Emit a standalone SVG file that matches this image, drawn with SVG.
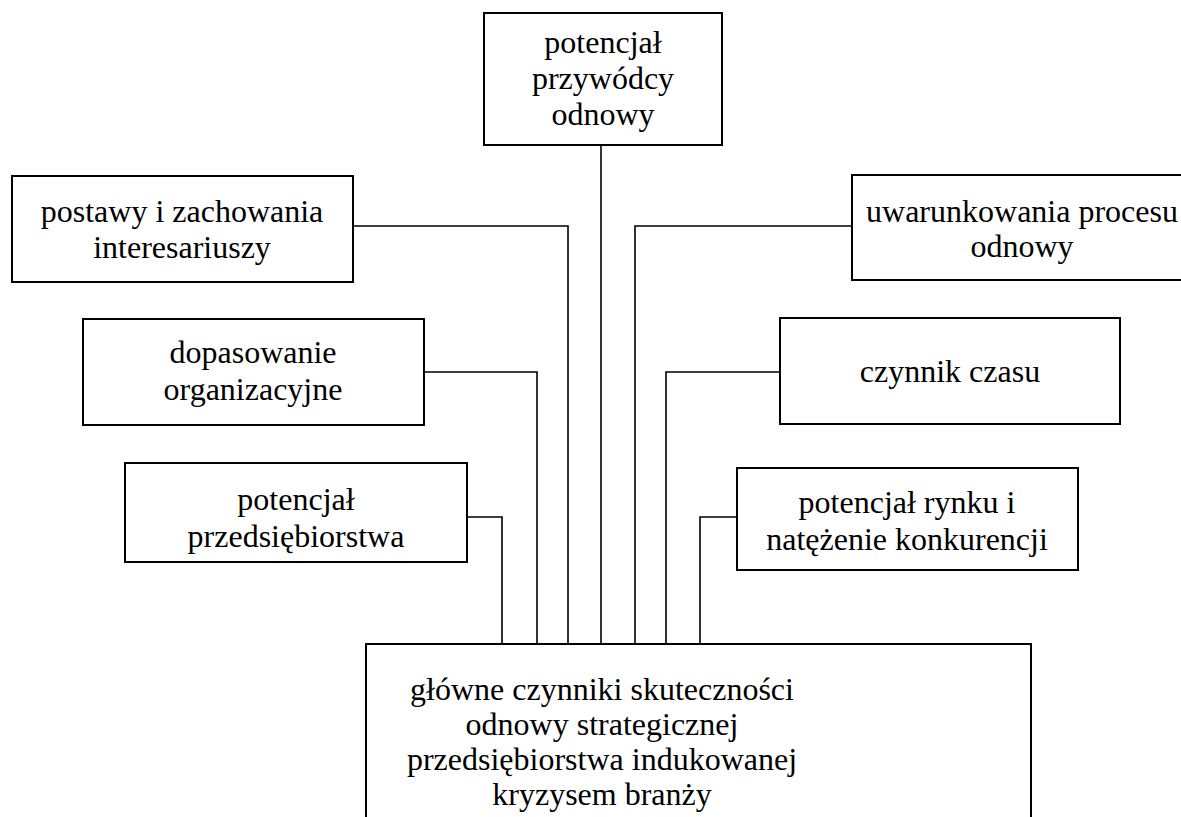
<svg xmlns="http://www.w3.org/2000/svg" width="1181" height="817" viewBox="0 0 1181 817" font-family="'Liberation Serif', 'DejaVu Serif', serif">
  <style>
    .box { fill: #ffffff; stroke: #000000; stroke-width: 2; }
    .conn { fill: none; stroke: #000000; stroke-width: 1.6; }
    .t { font-family: 'Liberation Serif', 'DejaVu Serif', serif; font-size: 32px; fill: #000000; text-anchor: middle; }
  </style>
  <rect width="1181" height="817" fill="#ffffff"/>

  <!-- connectors from each factor to the central box -->
  <g id="connectors">
    <path class="conn" d="M601,145 V644"/>
    <path class="conn" d="M353,226 H568 V644"/>
    <path class="conn" d="M424,372 H537 V644"/>
    <path class="conn" d="M467,517 H502 V644"/>
    <path class="conn" d="M852,226 H635 V644"/>
    <path class="conn" d="M780,372 H666 V644"/>
    <path class="conn" d="M737,517 H700 V644"/>
  </g>

  <g id="przywodca">
    <rect class="box" x="484" y="13" width="238" height="132"/>
    <text class="t" x="603" y="53">potencjał</text>
    <text class="t" x="603" y="89">przywódcy</text>
    <text class="t" x="603" y="125">odnowy</text>
  </g>

  <g id="postawy">
    <rect class="box" x="12" y="176" width="341" height="106"/>
    <text class="t" x="182" y="222">postawy i zachowania</text>
    <text class="t" x="182" y="258">interesariuszy</text>
  </g>

  <g id="uwarunkowania">
    <rect class="box" x="852" y="175" width="340" height="105"/>
    <text class="t" x="1022" y="222">uwarunkowania procesu</text>
    <text class="t" x="1022" y="257">odnowy</text>
  </g>

  <g id="dopasowanie">
    <rect class="box" x="83" y="319" width="341" height="106"/>
    <text class="t" x="253" y="363">dopasowanie</text>
    <text class="t" x="253" y="400">organizacyjne</text>
  </g>

  <g id="czas">
    <rect class="box" x="780" y="318" width="340" height="106"/>
    <text class="t" x="950" y="382">czynnik czasu</text>
  </g>

  <g id="przedsiebiorstwo">
    <rect class="box" x="125" y="463" width="342" height="99"/>
    <text class="t" x="296" y="510">potencjał</text>
    <text class="t" x="296" y="547">przedsiębiorstwa</text>
  </g>

  <g id="rynek">
    <rect class="box" x="737" y="468" width="341" height="102"/>
    <text class="t" x="907" y="513">potencjał rynku i</text>
    <text class="t" x="907" y="550">natężenie konkurencji</text>
  </g>

  <g id="czynniki-glowne">
    <rect class="box" x="366" y="644" width="665" height="200"/>
    <text class="t" x="602" y="700">główne czynniki skuteczności</text>
    <text class="t" x="602" y="735">odnowy strategicznej</text>
    <text class="t" x="602" y="770">przedsiębiorstwa indukowanej</text>
    <text class="t" x="602" y="805">kryzysem branży</text>
  </g>
</svg>
